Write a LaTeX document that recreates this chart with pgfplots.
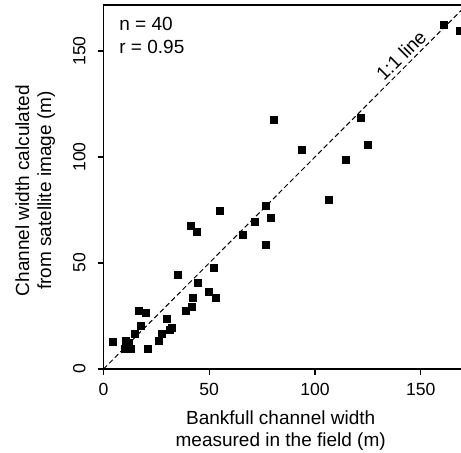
\documentclass[border=0pt]{standalone}
\usepackage{fontspec}
\setmainfont{Liberation Sans}
\usepackage{pgfplots}
\pgfplotsset{compat=1.18}
\begin{document}
\begin{tikzpicture}
\begin{axis}[
  at={(0,0)}, anchor=south west,
  scale only axis, width=180.8pt, height=182pt,
  xmin=0, xmax=171, ymin=0, ymax=171.7,
  xtick={0,50,100,150}, ytick={0,50,100,150},
  tick align=outside, tick pos=left, major tick length=2.8pt,
  axis line style={line width=0.6pt},
  every tick/.style={black, line width=0.6pt},
  /pgf/number format/assume math mode=true,
  tick label style={font=\fontsize{8.8}{10}\selectfont},
  xticklabel style={anchor=north, inner sep=0pt, yshift=-4pt},
  yticklabel style={rotate=90, anchor=base, inner sep=0pt, yshift=6.2pt},
  label style={font=\fontsize{9.5}{11}\selectfont, align=center, inner sep=0pt},
  xlabel={Bankfull channel width\\measured in the field (m)},
  xlabel style={at={([yshift=-20.5pt]axis description cs:0.49,0)}, anchor=north},
  ylabel={Channel width calculated\\from satellite image (m)},
  ylabel style={at={([xshift=-44.25pt]axis description cs:0,0.49)}, rotate=0, anchor=north},
  clip=true,
]
\addplot[black, line width=0.5pt, dash pattern=on 2.5pt off 1.5pt] coordinates {(0,0) (172,172)};
\addplot[only marks, mark=square*, mark size=1.75pt, black] coordinates {
(4.4,13.0) (10.4,13.2) (12.0,12.4) (10.0,9.3) (13.1,9.3) (11.2,10.0)
(14.9,16.4) (17.6,20.3) (16.9,27.4) (19.9,26.3) (21.2,9.4) (26.4,13.1)
(27.8,16.4) (30.2,23.4) (31.6,18.4) (32.5,19.2) (35.4,44.2) (39.1,27.4)
(42.0,29.1) (42.5,33.3) (41.4,67.5) (44.1,64.5) (44.8,40.4) (50.0,36.3)
(52.4,47.5) (53.3,33.3) (55.2,74.4) (66.1,63.1) (71.8,69.2) (77.0,77.0)
(79.3,71.2) (77.0,58.3) (80.6,117.3) (93.9,103.2) (106.8,79.7) (114.8,98.4)
(121.9,118.3) (125.2,105.5) (161.0,162.1) (168.6,159.4)
};
\node[rotate=45, anchor=base, inner sep=0pt, font=\fontsize{9.5}{11}\selectfont, xshift=-2.5pt, yshift=2pt] at (axis cs:146,146) {1:1 line};
\node[anchor=base west, inner sep=0pt, font=\fontsize{9.5}{11}\selectfont] at ([xshift=7.75pt,yshift=-13pt]rel axis cs:0,1) {n = 40};
\node[anchor=base west, inner sep=0pt, font=\fontsize{9.5}{11}\selectfont] at ([xshift=7.75pt,yshift=-24.5pt]rel axis cs:0,1) {r = 0.95};
\end{axis}
\pgfresetboundingbox
\path (-51.75pt,-42pt) rectangle (178.75pt,184.5pt);
\end{tikzpicture}
\end{document}
